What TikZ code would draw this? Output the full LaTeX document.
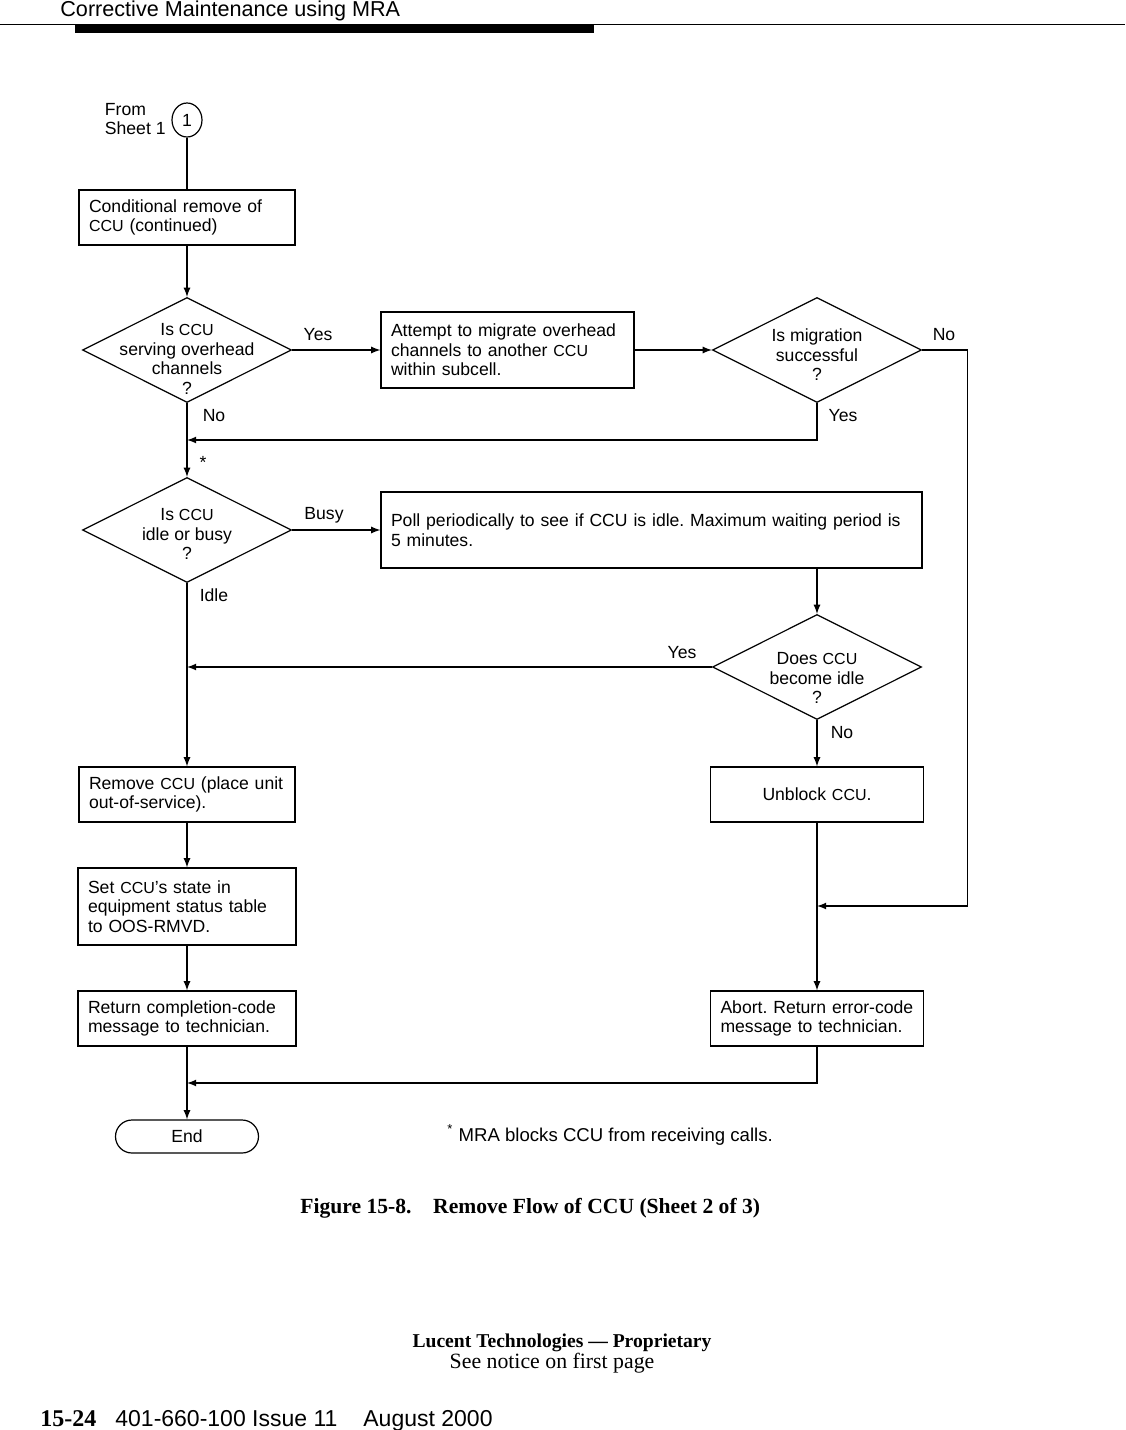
\documentclass[tikz,border=0pt]{standalone}
\usepackage{fontspec}
\setmainfont{Liberation Serif}
\setsansfont{Liberation Sans}
\usetikzlibrary{shapes.geometric}
\newcommand{\ccu}{{\fontsize{8pt}{9.8pt}\selectfont CCU}}

\begin{document}
\frenchspacing
\begin{tikzpicture}[x=0.5pt,y=-0.5pt,
	txt/.style={font=\sffamily\fontsize{8.8pt}{9.8pt}\selectfont},
	box/.style={txt, draw, line width=0.6pt, inner xsep=5pt, inner ysep=3pt, align=left},
	decision/.style={draw, line width=0.6pt, diamond, minimum width=104.5pt, minimum height=52.5pt, inner sep=0pt},
	flow/.style={line width=0.6pt, -latex},
	link/.style={line width=0.6pt},
	tag/.style={txt, inner sep=0pt}]
		\useasboundingbox (0,0) rectangle (1125,1430);

		\node[font=\sffamily\fontsize{10.8pt}{12pt}\selectfont, anchor=base west, inner sep=0pt] (head) at (60,16) {Corrective Maintenance using MRA};
		\draw [line width=0.5pt] (0,24) -- (1125,24);
		\fill (75,24) rectangle (594,32.5);

		\node[txt, draw, line width=0.6pt, ellipse, minimum width=15pt, minimum height=17pt, inner sep=0pt] (con1) at (187,120) {1};
		\node[txt, align=left, anchor=east, inner sep=0pt] (fromtxt) at (166,119) {From\\Sheet 1};

		\node[box, text width=98pt, minimum height=27.5pt] (cond) at (187,217.5) {Conditional remove of\\\ccu{} (continued)};
		\node[decision, label={[txt, align=center, yshift=-4.5pt]center:{Is \ccu\\serving overhead\\channels\\?}}] (q1) at (187,350) {};
		\node[box, text width=116.5pt, minimum height=38pt] (attempt) at (507.5,350) {Attempt to migrate overhead\\channels to another \ccu\\within subcell.};
		\node[decision, label={[txt, align=center, yshift=-2.5pt]center:{Is migration\\successful\\?}}] (mig) at (817,350) {};

		\node[decision, label={[txt, align=center, yshift=-2pt]center:{Is \ccu\\idle or busy\\?}}] (q3) at (187,530) {};
		\node[box, text width=260.5pt, minimum height=38pt] (poll) at (651.5,530) {Poll periodically to see if CCU is idle. Maximum waiting period is\\5 minutes.};
		\node[decision, label={[txt, align=center, yshift=-5.5pt]center:{Does \ccu\\become idle\\?}}] (q4) at (817,667) {};

		\node[box, text width=98pt, minimum height=27.5pt] (remove) at (187,794.5) {Remove \ccu{} (place unit\\out-of-service).};
		\node[box, text width=96.5pt, minimum height=27.5pt, align=center] (unblock) at (817,794.5) {Unblock \ccu.};
		\node[box, text width=99pt, minimum height=38.5pt] (setstate) at (187,906.5) {Set \ccu’s state in\\equipment status table\\to OOS-RMVD.};
		\node[box, text width=99pt, minimum height=27.5pt] (ret) at (187,1018.5) {Return completion-code\\message to technician.};
		\node[box, text width=96.5pt, minimum height=27.5pt] (abort) at (817,1018.5) {Abort. Return error-code\\message to technician.};
		\node[txt, draw, line width=0.6pt, rounded corners=8.25pt, minimum width=71.5pt, minimum height=16.5pt, inner sep=0pt] (finish) at (187,1136.5) {End};

		\coordinate (j1) at (187,440);
		\coordinate (j2) at (187,667);
		\coordinate (jr) at (817,906);
		\coordinate (j3) at (187,1083);

		\node[tag] (yes1) at (318,335) {Yes};
		\node[tag] (no1) at (214,416) {No};
		\node[tag] (ast) at (203,462) {*};
		\node[tag] (busy) at (324,515) {Busy};
		\node[tag] (idle) at (214,595) {Idle};
		\node[tag] (no2) at (944,335) {No};
		\node[tag] (yes2) at (843,416) {Yes};
		\node[tag] (yes3) at (682,653) {Yes};
		\node[tag] (no3) at (842,733) {No};

		\draw [link] (con1) -- (cond);
		\draw [flow] (cond) -- (q1);
		\draw [flow] (q1) -- (attempt);
		\draw [flow] (attempt) -- (mig);
		\draw [flow] (mig.east) -- ++(45,0) |- (jr);
		\draw [flow] (mig.south) |- (j1);
		\draw [flow] (q1) -- (q3);
		\draw [flow] (q3) -- (poll);
		\draw [flow] (q4.north |- poll.south) -- (q4);
		\draw [flow] (q4) -- (j2);
		\draw [flow] (q3) -- (remove);
		\draw [flow] (q4) -- (unblock);
		\draw [flow] (unblock) -- (abort);
		\draw [flow] (remove) -- (setstate);
		\draw [flow] (setstate) -- (ret);
		\draw [flow] (ret) -- (finish);
		\draw [flow] (abort.south) |- (j3);

		\node[font=\sffamily\fontsize{9.3pt}{11pt}\selectfont, anchor=west, inner sep=0pt] (note) at (447,1135) {\textsuperscript{*} MRA blocks CCU from receiving calls.};

		\node[font=\bfseries\fontsize{10.8pt}{13pt}\selectfont, anchor=base west, inner sep=0pt] (caption) at (300,1213) {Figure 15-8.\quad Remove Flow of CCU (Sheet 2 of 3)};
		\node[font=\bfseries\fontsize{9.8pt}{12pt}\selectfont, anchor=base, inner sep=0pt] (lucent) at (562,1347) {Lucent Technologies — Proprietary};
		\node[font=\fontsize{10.9pt}{12pt}\selectfont, anchor=base, inner sep=0pt] (notice) at (552,1368) {See notice on first page};
		\node[font=\bfseries\fontsize{12pt}{14pt}\selectfont, anchor=base west, inner sep=0pt] (pagenum) at (40,1426) {15-24};
		\node[font=\sffamily\fontsize{11.5pt}{13pt}\selectfont, anchor=base west, inner sep=0pt] (issue) at (115,1426) {401-660-100 Issue 11\hspace{13pt}August 2000};
	\end{tikzpicture}
\end{document}
